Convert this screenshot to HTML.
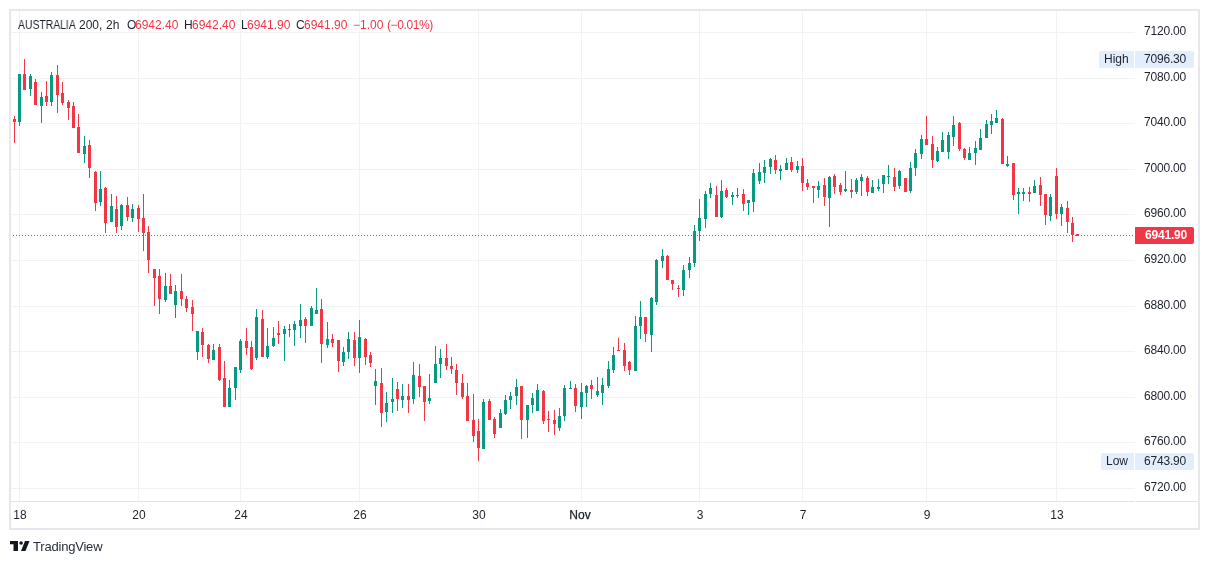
<!DOCTYPE html>
<html><head><meta charset="utf-8"><style>
html,body{margin:0;padding:0;background:#fff;width:1209px;height:564px;overflow:hidden}
body{position:relative;font-family:"Liberation Sans",sans-serif;color:#131722}
svg{position:absolute;left:0;top:0}
.t{position:absolute;font-size:12px;line-height:20px;white-space:nowrap;color:#1e222d;will-change:transform}
.rd{color:#f23645}
.cur{color:#fff;font-weight:bold}
.ta{position:absolute;will-change:transform;top:505px;width:60px;text-align:center;font-size:12px;line-height:20px;color:#1e222d}
.mon{-webkit-text-stroke:0.25px #131722}
.brand{position:absolute;will-change:transform;left:33px;top:537px;font-size:13px;line-height:20px;letter-spacing:-0.2px;color:#2a2e39}
</style></head><body>
<svg width="1209" height="564" viewBox="0 0 1209 564" shape-rendering="crispEdges">
<path fill="#f1f3f2" d="M11 32h1124v1h-1124zM11 78h1124v1h-1124zM11 123h1124v1h-1124zM11 169h1124v1h-1124zM11 214h1124v1h-1124zM11 260h1124v1h-1124zM11 306h1124v1h-1124zM11 351h1124v1h-1124zM11 397h1124v1h-1124zM11 442h1124v1h-1124zM11 488h1124v1h-1124zM19 11h1v490h-1zM138 11h1v490h-1zM240 11h1v490h-1zM359 11h1v490h-1zM478 11h1v490h-1zM581 11h1v490h-1zM699 11h1v490h-1zM802 11h1v490h-1zM926 11h1v490h-1zM1056 11h1v490h-1z"/>
<path fill="#e7e8ed" d="M9 9h1191v2h-1191zM9 528h1191v2h-1191zM9 9h2v521h-2zM1198 9h2v521h-2z"/>
<path fill="#e0e3eb" d="M11 501h1124v1h-1124zM1136 501h62v1h-62z"/>
<path fill="#f23645" d="M13 235h1v1h-1zM16 235h1v1h-1zM19 235h1v1h-1zM22 235h1v1h-1zM25 235h1v1h-1zM28 235h1v1h-1zM31 235h1v1h-1zM34 235h1v1h-1zM37 235h1v1h-1zM40 235h1v1h-1zM43 235h1v1h-1zM46 235h1v1h-1zM49 235h1v1h-1zM52 235h1v1h-1zM55 235h1v1h-1zM58 235h1v1h-1zM61 235h1v1h-1zM64 235h1v1h-1zM67 235h1v1h-1zM70 235h1v1h-1zM73 235h1v1h-1zM76 235h1v1h-1zM79 235h1v1h-1zM82 235h1v1h-1zM85 235h1v1h-1zM88 235h1v1h-1zM91 235h1v1h-1zM94 235h1v1h-1zM97 235h1v1h-1zM100 235h1v1h-1zM103 235h1v1h-1zM106 235h1v1h-1zM109 235h1v1h-1zM112 235h1v1h-1zM115 235h1v1h-1zM118 235h1v1h-1zM121 235h1v1h-1zM124 235h1v1h-1zM127 235h1v1h-1zM130 235h1v1h-1zM133 235h1v1h-1zM136 235h1v1h-1zM139 235h1v1h-1zM142 235h1v1h-1zM145 235h1v1h-1zM148 235h1v1h-1zM151 235h1v1h-1zM154 235h1v1h-1zM157 235h1v1h-1zM160 235h1v1h-1zM163 235h1v1h-1zM166 235h1v1h-1zM169 235h1v1h-1zM172 235h1v1h-1zM175 235h1v1h-1zM178 235h1v1h-1zM181 235h1v1h-1zM184 235h1v1h-1zM187 235h1v1h-1zM190 235h1v1h-1zM193 235h1v1h-1zM196 235h1v1h-1zM199 235h1v1h-1zM202 235h1v1h-1zM205 235h1v1h-1zM208 235h1v1h-1zM211 235h1v1h-1zM214 235h1v1h-1zM217 235h1v1h-1zM220 235h1v1h-1zM223 235h1v1h-1zM226 235h1v1h-1zM229 235h1v1h-1zM232 235h1v1h-1zM235 235h1v1h-1zM238 235h1v1h-1zM241 235h1v1h-1zM244 235h1v1h-1zM247 235h1v1h-1zM250 235h1v1h-1zM253 235h1v1h-1zM256 235h1v1h-1zM259 235h1v1h-1zM262 235h1v1h-1zM265 235h1v1h-1zM268 235h1v1h-1zM271 235h1v1h-1zM274 235h1v1h-1zM277 235h1v1h-1zM280 235h1v1h-1zM283 235h1v1h-1zM286 235h1v1h-1zM289 235h1v1h-1zM292 235h1v1h-1zM295 235h1v1h-1zM298 235h1v1h-1zM301 235h1v1h-1zM304 235h1v1h-1zM307 235h1v1h-1zM310 235h1v1h-1zM313 235h1v1h-1zM316 235h1v1h-1zM319 235h1v1h-1zM322 235h1v1h-1zM325 235h1v1h-1zM328 235h1v1h-1zM331 235h1v1h-1zM334 235h1v1h-1zM337 235h1v1h-1zM340 235h1v1h-1zM343 235h1v1h-1zM346 235h1v1h-1zM349 235h1v1h-1zM352 235h1v1h-1zM355 235h1v1h-1zM358 235h1v1h-1zM361 235h1v1h-1zM364 235h1v1h-1zM367 235h1v1h-1zM370 235h1v1h-1zM373 235h1v1h-1zM376 235h1v1h-1zM379 235h1v1h-1zM382 235h1v1h-1zM385 235h1v1h-1zM388 235h1v1h-1zM391 235h1v1h-1zM394 235h1v1h-1zM397 235h1v1h-1zM400 235h1v1h-1zM403 235h1v1h-1zM406 235h1v1h-1zM409 235h1v1h-1zM412 235h1v1h-1zM415 235h1v1h-1zM418 235h1v1h-1zM421 235h1v1h-1zM424 235h1v1h-1zM427 235h1v1h-1zM430 235h1v1h-1zM433 235h1v1h-1zM436 235h1v1h-1zM439 235h1v1h-1zM442 235h1v1h-1zM445 235h1v1h-1zM448 235h1v1h-1zM451 235h1v1h-1zM454 235h1v1h-1zM457 235h1v1h-1zM460 235h1v1h-1zM463 235h1v1h-1zM466 235h1v1h-1zM469 235h1v1h-1zM472 235h1v1h-1zM475 235h1v1h-1zM478 235h1v1h-1zM481 235h1v1h-1zM484 235h1v1h-1zM487 235h1v1h-1zM490 235h1v1h-1zM493 235h1v1h-1zM496 235h1v1h-1zM499 235h1v1h-1zM502 235h1v1h-1zM505 235h1v1h-1zM508 235h1v1h-1zM511 235h1v1h-1zM514 235h1v1h-1zM517 235h1v1h-1zM520 235h1v1h-1zM523 235h1v1h-1zM526 235h1v1h-1zM529 235h1v1h-1zM532 235h1v1h-1zM535 235h1v1h-1zM538 235h1v1h-1zM541 235h1v1h-1zM544 235h1v1h-1zM547 235h1v1h-1zM550 235h1v1h-1zM553 235h1v1h-1zM556 235h1v1h-1zM559 235h1v1h-1zM562 235h1v1h-1zM565 235h1v1h-1zM568 235h1v1h-1zM571 235h1v1h-1zM574 235h1v1h-1zM577 235h1v1h-1zM580 235h1v1h-1zM583 235h1v1h-1zM586 235h1v1h-1zM589 235h1v1h-1zM592 235h1v1h-1zM595 235h1v1h-1zM598 235h1v1h-1zM601 235h1v1h-1zM604 235h1v1h-1zM607 235h1v1h-1zM610 235h1v1h-1zM613 235h1v1h-1zM616 235h1v1h-1zM619 235h1v1h-1zM622 235h1v1h-1zM625 235h1v1h-1zM628 235h1v1h-1zM631 235h1v1h-1zM634 235h1v1h-1zM637 235h1v1h-1zM640 235h1v1h-1zM643 235h1v1h-1zM646 235h1v1h-1zM649 235h1v1h-1zM652 235h1v1h-1zM655 235h1v1h-1zM658 235h1v1h-1zM661 235h1v1h-1zM664 235h1v1h-1zM667 235h1v1h-1zM670 235h1v1h-1zM673 235h1v1h-1zM676 235h1v1h-1zM679 235h1v1h-1zM682 235h1v1h-1zM685 235h1v1h-1zM688 235h1v1h-1zM691 235h1v1h-1zM694 235h1v1h-1zM697 235h1v1h-1zM700 235h1v1h-1zM703 235h1v1h-1zM706 235h1v1h-1zM709 235h1v1h-1zM712 235h1v1h-1zM715 235h1v1h-1zM718 235h1v1h-1zM721 235h1v1h-1zM724 235h1v1h-1zM727 235h1v1h-1zM730 235h1v1h-1zM733 235h1v1h-1zM736 235h1v1h-1zM739 235h1v1h-1zM742 235h1v1h-1zM745 235h1v1h-1zM748 235h1v1h-1zM751 235h1v1h-1zM754 235h1v1h-1zM757 235h1v1h-1zM760 235h1v1h-1zM763 235h1v1h-1zM766 235h1v1h-1zM769 235h1v1h-1zM772 235h1v1h-1zM775 235h1v1h-1zM778 235h1v1h-1zM781 235h1v1h-1zM784 235h1v1h-1zM787 235h1v1h-1zM790 235h1v1h-1zM793 235h1v1h-1zM796 235h1v1h-1zM799 235h1v1h-1zM802 235h1v1h-1zM805 235h1v1h-1zM808 235h1v1h-1zM811 235h1v1h-1zM814 235h1v1h-1zM817 235h1v1h-1zM820 235h1v1h-1zM823 235h1v1h-1zM826 235h1v1h-1zM829 235h1v1h-1zM832 235h1v1h-1zM835 235h1v1h-1zM838 235h1v1h-1zM841 235h1v1h-1zM844 235h1v1h-1zM847 235h1v1h-1zM850 235h1v1h-1zM853 235h1v1h-1zM856 235h1v1h-1zM859 235h1v1h-1zM862 235h1v1h-1zM865 235h1v1h-1zM868 235h1v1h-1zM871 235h1v1h-1zM874 235h1v1h-1zM877 235h1v1h-1zM880 235h1v1h-1zM883 235h1v1h-1zM886 235h1v1h-1zM889 235h1v1h-1zM892 235h1v1h-1zM895 235h1v1h-1zM898 235h1v1h-1zM901 235h1v1h-1zM904 235h1v1h-1zM907 235h1v1h-1zM910 235h1v1h-1zM913 235h1v1h-1zM916 235h1v1h-1zM919 235h1v1h-1zM922 235h1v1h-1zM925 235h1v1h-1zM928 235h1v1h-1zM931 235h1v1h-1zM934 235h1v1h-1zM937 235h1v1h-1zM940 235h1v1h-1zM943 235h1v1h-1zM946 235h1v1h-1zM949 235h1v1h-1zM952 235h1v1h-1zM955 235h1v1h-1zM958 235h1v1h-1zM961 235h1v1h-1zM964 235h1v1h-1zM967 235h1v1h-1zM970 235h1v1h-1zM973 235h1v1h-1zM976 235h1v1h-1zM979 235h1v1h-1zM982 235h1v1h-1zM985 235h1v1h-1zM988 235h1v1h-1zM991 235h1v1h-1zM994 235h1v1h-1zM997 235h1v1h-1zM1000 235h1v1h-1zM1003 235h1v1h-1zM1006 235h1v1h-1zM1009 235h1v1h-1zM1012 235h1v1h-1zM1015 235h1v1h-1zM1018 235h1v1h-1zM1021 235h1v1h-1zM1024 235h1v1h-1zM1027 235h1v1h-1zM1030 235h1v1h-1zM1033 235h1v1h-1zM1036 235h1v1h-1zM1039 235h1v1h-1zM1042 235h1v1h-1zM1045 235h1v1h-1zM1048 235h1v1h-1zM1051 235h1v1h-1zM1054 235h1v1h-1zM1057 235h1v1h-1zM1060 235h1v1h-1zM1063 235h1v1h-1zM1066 235h1v1h-1zM1069 235h1v1h-1zM1072 235h1v1h-1zM1075 235h1v1h-1zM1078 235h1v1h-1zM1081 235h1v1h-1zM1084 235h1v1h-1zM1087 235h1v1h-1zM1090 235h1v1h-1zM1093 235h1v1h-1zM1096 235h1v1h-1zM1099 235h1v1h-1zM1102 235h1v1h-1zM1105 235h1v1h-1zM1108 235h1v1h-1zM1111 235h1v1h-1zM1114 235h1v1h-1zM1117 235h1v1h-1zM1120 235h1v1h-1zM1123 235h1v1h-1zM1126 235h1v1h-1zM1129 235h1v1h-1zM1132 235h1v1h-1z"/>
<path fill="#089981" d="M18 74h3v48h-3zM19 122h1v4h-1zM29 76h3v13h-3zM30 74h1v2h-1zM30 89h1v7h-1zM40 97h3v9h-3zM41 92h1v5h-1zM41 106h1v17h-1zM50 75h3v27h-3zM51 72h1v3h-1zM51 102h1v4h-1zM83 146h3v8h-3zM84 136h1v10h-1zM84 154h1v9h-1zM99 189h3v13h-3zM100 171h1v18h-1zM100 202h1v4h-1zM110 206h3v16h-3zM111 194h1v12h-1zM120 205h3v21h-3zM121 204h1v1h-1zM121 226h1v4h-1zM131 209h3v9h-3zM132 204h1v5h-1zM132 218h1v4h-1zM164 286h3v14h-3zM165 273h1v13h-1zM165 300h1v2h-1zM174 291h3v14h-3zM175 285h1v6h-1zM175 305h1v13h-1zM196 331h3v21h-3zM197 352h1v8h-1zM212 350h3v10h-3zM213 344h1v6h-1zM228 388h3v19h-3zM229 380h1v8h-1zM234 367h3v21h-3zM235 388h1v12h-1zM239 341h3v29h-3zM240 339h1v2h-1zM240 370h1v3h-1zM255 317h3v41h-3zM256 309h1v8h-1zM256 358h1v2h-1zM266 346h3v11h-3zM267 328h1v18h-1zM267 357h1v2h-1zM272 338h3v8h-3zM273 327h1v11h-1zM273 346h1v1h-1zM283 329h3v5h-3zM284 326h1v3h-1zM284 334h1v27h-1zM288 329h3v1h-3zM289 324h1v5h-1zM289 330h1v7h-1zM293 324h3v6h-3zM294 321h1v3h-1zM294 330h1v16h-1zM299 320h3v6h-3zM300 304h1v16h-1zM300 326h1v12h-1zM310 308h3v18h-3zM311 306h1v2h-1zM315 310h3v4h-3zM316 288h1v22h-1zM326 339h3v6h-3zM327 322h1v17h-1zM327 345h1v3h-1zM342 352h3v10h-3zM343 347h1v5h-1zM343 362h1v4h-1zM347 339h3v13h-3zM348 332h1v7h-1zM348 352h1v7h-1zM358 337h3v21h-3zM359 320h1v17h-1zM359 358h1v15h-1zM374 381h3v5h-3zM375 369h1v12h-1zM375 386h1v19h-1zM385 403h3v9h-3zM386 392h1v11h-1zM386 412h1v10h-1zM391 399h3v3h-3zM392 378h1v21h-1zM392 402h1v11h-1zM401 396h3v4h-3zM402 384h1v12h-1zM402 400h1v8h-1zM412 375h3v24h-3zM413 362h1v13h-1zM413 399h1v5h-1zM428 398h3v3h-3zM429 374h1v24h-1zM429 401h1v3h-1zM434 364h3v19h-3zM435 346h1v18h-1zM439 358h3v6h-3zM440 349h1v9h-1zM440 364h1v14h-1zM482 402h3v47h-3zM483 399h1v3h-1zM499 413h3v15h-3zM500 409h1v4h-1zM504 400h3v14h-3zM505 395h1v5h-1zM505 414h1v1h-1zM509 396h3v4h-3zM510 392h1v4h-1zM510 400h1v9h-1zM515 387h3v9h-3zM516 379h1v8h-1zM516 396h1v9h-1zM526 405h3v15h-3zM527 420h1v18h-1zM531 398h3v7h-3zM532 393h1v5h-1zM532 405h1v8h-1zM536 390h3v21h-3zM537 384h1v6h-1zM558 416h3v12h-3zM559 408h1v8h-1zM559 428h1v3h-1zM563 388h3v28h-3zM564 385h1v3h-1zM564 416h1v5h-1zM569 388h3v1h-3zM570 381h1v7h-1zM580 392h3v15h-3zM581 383h1v9h-1zM581 407h1v12h-1zM585 386h3v7h-3zM586 385h1v1h-1zM586 393h1v14h-1zM596 391h3v4h-3zM597 377h1v14h-1zM597 395h1v2h-1zM601 385h3v8h-3zM602 378h1v7h-1zM602 393h1v12h-1zM607 369h3v17h-3zM608 361h1v8h-1zM608 386h1v2h-1zM612 355h3v15h-3zM613 347h1v8h-1zM613 370h1v3h-1zM634 326h3v45h-3zM635 316h1v10h-1zM639 317h3v9h-3zM640 301h1v16h-1zM640 326h1v13h-1zM650 298h3v37h-3zM651 297h1v1h-1zM651 335h1v17h-1zM655 260h3v42h-3zM656 259h1v1h-1zM656 302h1v3h-1zM661 256h3v5h-3zM662 249h1v7h-1zM662 261h1v7h-1zM682 270h3v20h-3zM683 265h1v5h-1zM683 290h1v6h-1zM688 263h3v7h-3zM689 257h1v6h-1zM689 270h1v8h-1zM693 231h3v32h-3zM694 225h1v6h-1zM694 263h1v4h-1zM698 218h3v13h-3zM699 199h1v19h-1zM699 231h1v10h-1zM704 194h3v25h-3zM705 191h1v3h-1zM705 219h1v9h-1zM709 188h3v6h-3zM710 183h1v5h-1zM710 194h1v4h-1zM720 191h3v26h-3zM721 180h1v11h-1zM721 217h1v1h-1zM731 195h3v2h-3zM732 192h1v3h-1zM732 197h1v8h-1zM736 195h3v1h-3zM737 188h1v7h-1zM737 196h1v2h-1zM747 200h3v3h-3zM748 203h1v12h-1zM752 173h3v29h-3zM753 169h1v4h-1zM753 202h1v10h-1zM758 172h3v9h-3zM759 163h1v9h-1zM759 181h1v3h-1zM763 167h3v6h-3zM764 160h1v7h-1zM764 173h1v10h-1zM769 159h3v8h-3zM770 158h1v1h-1zM770 167h1v7h-1zM779 169h3v2h-3zM780 165h1v4h-1zM780 171h1v9h-1zM785 163h3v7h-3zM786 158h1v5h-1zM796 166h3v4h-3zM797 161h1v5h-1zM797 170h1v3h-1zM817 186h3v4h-3zM818 181h1v5h-1zM818 190h1v8h-1zM828 177h3v21h-3zM829 176h1v1h-1zM829 198h1v29h-1zM844 189h3v2h-3zM845 171h1v18h-1zM845 191h1v1h-1zM855 180h3v12h-3zM856 178h1v2h-1zM856 192h1v2h-1zM860 177h3v4h-3zM861 174h1v3h-1zM861 181h1v15h-1zM871 187h3v6h-3zM872 180h1v7h-1zM877 187h3v2h-3zM878 179h1v8h-1zM878 189h1v2h-1zM882 175h3v9h-3zM883 184h1v9h-1zM887 176h3v1h-3zM888 165h1v11h-1zM888 177h1v7h-1zM898 171h3v15h-3zM899 170h1v1h-1zM899 186h1v3h-1zM909 168h3v23h-3zM910 162h1v6h-1zM910 191h1v2h-1zM914 153h3v15h-3zM915 149h1v4h-1zM915 168h1v8h-1zM920 139h3v15h-3zM921 135h1v4h-1zM921 154h1v5h-1zM936 151h3v10h-3zM937 147h1v4h-1zM937 161h1v1h-1zM941 140h3v12h-3zM942 132h1v8h-1zM947 135h3v17h-3zM948 132h1v3h-1zM948 152h1v7h-1zM952 125h3v12h-3zM953 116h1v9h-1zM953 137h1v9h-1zM968 153h3v7h-3zM969 147h1v6h-1zM974 148h3v5h-3zM975 141h1v7h-1zM975 153h1v12h-1zM979 138h3v12h-3zM980 129h1v9h-1zM985 124h3v14h-3zM986 120h1v4h-1zM990 121h3v4h-3zM991 114h1v7h-1zM991 125h1v9h-1zM995 118h3v5h-3zM996 110h1v8h-1zM1006 164h3v2h-3zM1007 156h1v8h-1zM1007 166h1v1h-1zM1017 192h3v2h-3zM1018 188h1v4h-1zM1018 194h1v20h-1zM1022 192h3v2h-3zM1023 188h1v4h-1zM1023 194h1v7h-1zM1033 186h3v7h-3zM1034 180h1v6h-1zM1049 197h3v19h-3zM1050 194h1v3h-1zM1050 216h1v5h-1zM1060 207h3v7h-3zM1061 204h1v3h-1zM1061 214h1v12h-1z"/>
<path fill="#f23645" d="M13 119h3v3h-3zM14 116h1v3h-1zM14 122h1v21h-1zM23 74h3v16h-3zM24 59h1v15h-1zM34 82h3v23h-3zM35 79h1v3h-1zM45 96h3v6h-3zM46 81h1v15h-1zM46 102h1v4h-1zM56 75h3v20h-3zM57 65h1v10h-1zM57 95h1v18h-1zM61 93h3v10h-3zM62 82h1v11h-1zM62 103h1v2h-1zM67 102h3v6h-3zM68 100h1v2h-1zM68 108h1v12h-1zM72 106h3v22h-3zM73 102h1v4h-1zM77 127h3v26h-3zM78 114h1v13h-1zM88 145h3v23h-3zM89 140h1v5h-1zM89 168h1v10h-1zM94 172h3v31h-3zM95 171h1v1h-1zM95 203h1v8h-1zM104 188h3v35h-3zM105 187h1v1h-1zM105 223h1v10h-1zM115 209h3v18h-3zM116 196h1v13h-1zM116 227h1v6h-1zM126 205h3v12h-3zM127 197h1v8h-1zM127 217h1v4h-1zM137 208h3v11h-3zM138 205h1v3h-1zM138 219h1v13h-1zM142 218h3v15h-3zM143 194h1v24h-1zM143 233h1v18h-1zM147 232h3v28h-3zM148 226h1v6h-1zM148 260h1v13h-1zM153 269h3v9h-3zM154 278h1v28h-1zM158 276h3v23h-3zM159 269h1v7h-1zM159 299h1v15h-1zM169 286h3v8h-3zM170 274h1v12h-1zM180 291h3v8h-3zM181 274h1v17h-1zM181 299h1v7h-1zM185 299h3v9h-3zM186 296h1v3h-1zM186 308h1v4h-1zM191 307h3v7h-3zM192 300h1v7h-1zM192 314h1v17h-1zM201 332h3v13h-3zM202 328h1v4h-1zM202 345h1v12h-1zM207 345h3v14h-3zM208 344h1v1h-1zM208 359h1v4h-1zM218 347h3v33h-3zM219 344h1v3h-1zM219 380h1v1h-1zM223 378h3v29h-3zM224 361h1v17h-1zM245 341h3v7h-3zM246 328h1v13h-1zM246 348h1v7h-1zM250 347h3v22h-3zM251 341h1v6h-1zM251 369h1v1h-1zM261 319h3v38h-3zM262 310h1v9h-1zM277 333h3v2h-3zM278 321h1v12h-1zM278 335h1v9h-1zM304 319h3v7h-3zM305 317h1v2h-1zM305 326h1v17h-1zM320 309h3v35h-3zM321 299h1v10h-1zM321 344h1v19h-1zM331 339h3v4h-3zM332 334h1v5h-1zM332 343h1v4h-1zM337 340h3v21h-3zM338 361h1v11h-1zM353 340h3v18h-3zM354 332h1v8h-1zM354 358h1v8h-1zM364 339h3v18h-3zM365 338h1v1h-1zM365 357h1v8h-1zM369 355h3v8h-3zM370 352h1v3h-1zM370 363h1v4h-1zM380 383h3v30h-3zM381 368h1v15h-1zM381 413h1v14h-1zM396 389h3v10h-3zM397 382h1v7h-1zM397 399h1v12h-1zM407 396h3v4h-3zM408 384h1v12h-1zM408 400h1v13h-1zM418 376h3v11h-3zM419 364h1v12h-1zM419 387h1v10h-1zM423 386h3v16h-3zM424 402h1v19h-1zM445 358h3v8h-3zM446 344h1v14h-1zM446 366h1v4h-1zM450 366h3v3h-3zM451 357h1v9h-1zM451 369h1v5h-1zM455 370h3v13h-3zM456 364h1v6h-1zM456 383h1v12h-1zM461 383h3v14h-3zM462 374h1v9h-1zM462 397h1v2h-1zM466 396h3v25h-3zM467 383h1v13h-1zM472 420h3v16h-3zM473 394h1v26h-1zM473 436h1v6h-1zM477 431h3v17h-3zM478 419h1v12h-1zM478 448h1v13h-1zM488 401h3v19h-3zM489 399h1v2h-1zM493 419h3v15h-3zM494 417h1v2h-1zM494 434h1v4h-1zM520 386h3v34h-3zM521 420h1v19h-1zM542 391h3v30h-3zM543 390h1v1h-1zM543 421h1v3h-1zM547 419h3v1h-3zM548 411h1v8h-1zM548 420h1v12h-1zM553 420h3v4h-3zM554 410h1v10h-1zM554 424h1v11h-1zM574 388h3v18h-3zM575 384h1v4h-1zM575 406h1v6h-1zM590 385h3v4h-3zM591 380h1v5h-1zM591 389h1v10h-1zM617 350h3v1h-3zM618 338h1v12h-1zM623 350h3v16h-3zM624 343h1v7h-1zM624 366h1v5h-1zM628 362h3v8h-3zM629 361h1v1h-1zM629 370h1v5h-1zM644 317h3v17h-3zM645 334h1v8h-1zM666 256h3v24h-3zM667 255h1v1h-1zM671 280h3v4h-3zM672 284h1v6h-1zM677 288h3v1h-3zM678 285h1v3h-1zM678 289h1v8h-1zM715 195h3v22h-3zM716 186h1v9h-1zM725 190h3v7h-3zM726 188h1v2h-1zM726 197h1v1h-1zM742 194h3v10h-3zM743 189h1v5h-1zM743 204h1v7h-1zM774 160h3v10h-3zM775 155h1v5h-1zM775 170h1v4h-1zM790 162h3v8h-3zM791 157h1v5h-1zM791 170h1v2h-1zM801 166h3v17h-3zM802 158h1v8h-1zM802 183h1v8h-1zM806 183h3v4h-3zM807 179h1v4h-1zM807 187h1v3h-1zM812 186h3v2h-3zM813 188h1v15h-1zM823 185h3v12h-3zM824 178h1v7h-1zM824 197h1v9h-1zM833 176h3v11h-3zM834 174h1v2h-1zM834 187h1v7h-1zM839 185h3v7h-3zM840 183h1v2h-1zM840 192h1v3h-1zM850 190h3v2h-3zM851 179h1v11h-1zM851 192h1v6h-1zM866 178h3v14h-3zM867 176h1v2h-1zM867 192h1v4h-1zM893 177h3v10h-3zM894 168h1v9h-1zM894 187h1v4h-1zM904 178h3v14h-3zM925 139h3v6h-3zM926 116h1v23h-1zM931 144h3v16h-3zM932 136h1v8h-1zM932 160h1v8h-1zM958 123h3v26h-3zM959 122h1v1h-1zM959 149h1v2h-1zM963 149h3v9h-3zM964 148h1v1h-1zM964 158h1v2h-1zM1001 119h3v45h-3zM1002 118h1v1h-1zM1012 163h3v32h-3zM1013 195h1v5h-1zM1028 192h3v2h-3zM1029 187h1v5h-1zM1029 194h1v8h-1zM1039 185h3v10h-3zM1040 177h1v8h-1zM1040 195h1v11h-1zM1044 194h3v21h-3zM1045 215h1v10h-1zM1055 176h3v38h-3zM1056 168h1v8h-1zM1056 214h1v5h-1zM1066 208h3v14h-3zM1067 201h1v7h-1zM1067 222h1v11h-1zM1071 223h3v12h-3zM1072 217h1v6h-1zM1072 235h1v7h-1zM1076 234h3v2h-3z"/>
<path fill="#e3eefc" shape-rendering="auto" d="M1101 51h33v17h-33a2 2 0 0 1 -2 -2v-13a2 2 0 0 1 2 -2zM1135 51h57a2 2 0 0 1 2 2v13a2 2 0 0 1 -2 2h-57zM1103 453h31v17h-31a2 2 0 0 1 -2 -2v-13a2 2 0 0 1 2 -2zM1135 453h57a2 2 0 0 1 2 2v13a2 2 0 0 1 -2 2h-57z"/>
<path fill="#f23645" shape-rendering="auto" d="M1135 227h57a2 2 0 0 1 2 2v13a2 2 0 0 1 -2 2h-57z"/>
<g fill="#131722" shape-rendering="auto"><path d="M10 541h8v10h-4.5v-6.8h-3.5z"/><circle cx="21.1" cy="543" r="1.8"/><path d="M25 541h4.5l-4 10h-4.5z"/></g>
</svg>
<div class="t " style="left:18px;top:15px;transform:scaleX(0.866);transform-origin:0 0">AUSTRALIA</div>
<div class="t " style="left:79.2px;top:15px;">200,</div>
<div class="t " style="left:105.8px;top:15px;">2h</div>
<div class="t " style="left:126.6px;top:15px;">O</div>
<div class="t rd" style="left:135.0px;top:15px;">6942.40</div>
<div class="t " style="left:183.9px;top:15px;">H</div>
<div class="t rd" style="left:192.2px;top:15px;">6942.40</div>
<div class="t " style="left:240.7px;top:15px;">L</div>
<div class="t rd" style="left:246.8px;top:15px;">6941.90</div>
<div class="t " style="left:296.4px;top:15px;">C</div>
<div class="t rd" style="left:303.6px;top:15px;">6941.90</div>
<div class="t rd" style="left:352.9px;top:15px;">−1.00</div>
<div class="t rd" style="left:386.6px;top:15px;letter-spacing:-0.4px">(−0.01%)</div>
<div class="t " style="left:1144.1px;top:21px;letter-spacing:-0.2px">7120.00</div>
<div class="t " style="left:1144.1px;top:67px;letter-spacing:-0.2px">7080.00</div>
<div class="t " style="left:1144.1px;top:112px;letter-spacing:-0.2px">7040.00</div>
<div class="t " style="left:1144.1px;top:158px;letter-spacing:-0.2px">7000.00</div>
<div class="t " style="left:1144.1px;top:203px;letter-spacing:-0.2px">6960.00</div>
<div class="t " style="left:1144.1px;top:249px;letter-spacing:-0.2px">6920.00</div>
<div class="t " style="left:1144.1px;top:295px;letter-spacing:-0.2px">6880.00</div>
<div class="t " style="left:1144.1px;top:340px;letter-spacing:-0.2px">6840.00</div>
<div class="t " style="left:1144.1px;top:386px;letter-spacing:-0.2px">6800.00</div>
<div class="t " style="left:1144.1px;top:431px;letter-spacing:-0.2px">6760.00</div>
<div class="t " style="left:1144.1px;top:477px;letter-spacing:-0.2px">6720.00</div>
<div class="t " style="left:1144.1px;top:49px;letter-spacing:-0.2px">7096.30</div>
<div class="t " style="left:1103.6px;top:49px;">High</div>
<div class="t " style="left:1144.1px;top:451px;letter-spacing:-0.2px">6743.90</div>
<div class="t " style="left:1105.8px;top:451px;">Low</div>
<div class="t cur" style="left:1144.7px;top:225px;letter-spacing:-0.2px">6941.90</div>
<div class="ta" style="left:-10.5px">18</div>
<div class="ta" style="left:108.5px">20</div>
<div class="ta" style="left:210.5px">24</div>
<div class="ta" style="left:329.5px">26</div>
<div class="ta" style="left:448.5px">30</div>
<div class="ta mon" style="left:550.4px">Nov</div>
<div class="ta" style="left:669.5px">3</div>
<div class="ta" style="left:772.5px">7</div>
<div class="ta" style="left:896.5px">9</div>
<div class="ta" style="left:1026.5px">13</div>
<div class="brand">TradingView</div>
</body></html>
